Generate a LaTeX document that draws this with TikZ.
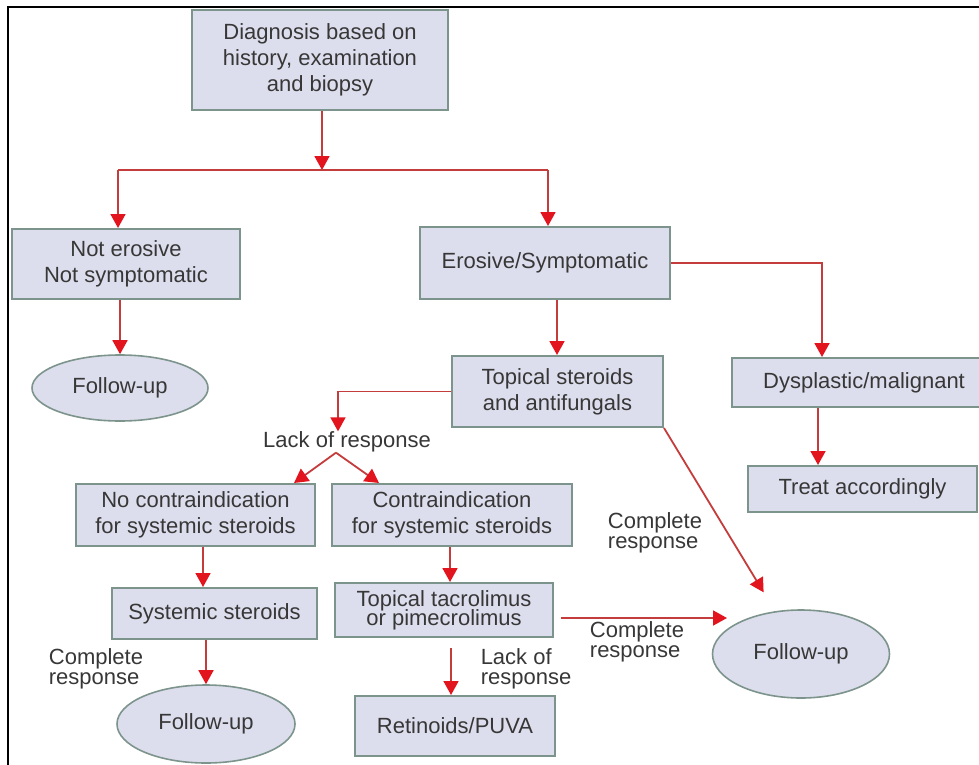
\documentclass[tikz,border=0pt]{standalone}
\usepackage{fontspec}
\setmainfont{Liberation Sans}
\usetikzlibrary{arrows.meta}
\usetikzlibrary{shapes.geometric}
\definecolor{boxfill}{RGB}{221,222,237}
\definecolor{boxline}{RGB}{125,148,140}
\definecolor{linkred}{RGB}{196,60,60}
\definecolor{tipred}{RGB}{226,20,30}
\definecolor{txtgrey}{RGB}{55,55,55}
\tikzset{
  box/.style={draw=boxline, fill=boxfill, line width=1pt, align=center,
    inner sep=0pt, text=txtgrey},
  oval/.style={ellipse, draw=boxline, fill=boxfill, line width=0.8pt,
    inner sep=0pt, text=txtgrey},
  note/.style={align=left, inner sep=0pt, text=txtgrey},
  link/.style={draw=linkred, line width=0.9pt},
  arr/.style={link, -{Triangle[width=7.5pt,length=7pt,color=tipred]}},
}

\begin{document}
\begin{tikzpicture}[x=0.5pt, y=-0.5pt, font=\fontsize{11}{13}\selectfont]
\useasboundingbox (0,0) rectangle (979,765);
\draw[line width=1pt] (8,765) -- (8,7) -- (979,7);

%%%%%%%%%%%%%%%%%%%%%%%%%%%%%%%%%%%%%%%%%%%%%%%%%%%%%%%%%%%%%% top
\node[box, minimum width=128pt, minimum height=50pt] (diag) at (320,60)
  {Diagnosis based on\\history, examination\\and biopsy};
\node[box, minimum width=114pt, minimum height=35pt] (noero) at (126,264)
  {Not erosive\\Not symptomatic};
\node[box, minimum width=125pt, minimum height=36pt] (ero) at (545,263)
  {Erosive/Symptomatic};
\node[oval, minimum width=88pt, minimum height=33pt] (fu1) at (120,388) {Follow-up};

\coordinate (split) at (322,170);
\coordinate (splitL) at (118,170);
\coordinate (splitR) at (548,170);
\draw[arr] (diag.south -| split) -- (split);
\draw[link] (splitL) -- (splitR);
\draw[arr] (splitL) -- (splitL |- noero.north);
\draw[arr] (splitR) -- (splitR |- ero.north);
\draw[arr] (fu1.north |- noero.south) -- (fu1.north);

%%%%%%%%%%%%%%%%%%%%%%%%%%%%%%%%%%%%%%%%%%%%%%%%%%%%%%%%%%%%%% right
\node[box, minimum width=132pt, minimum height=24.5pt] (dysp) at (864,382.5)
  {Dysplastic/malignant};
\node[box, minimum width=114.5pt, minimum height=23pt] (treat) at (862.5,489)
  {Treat accordingly};

\coordinate (dysin) at (822,300);
\coordinate (dysout) at (818,420);
\draw[arr] (ero.east) -| (dysin |- dysp.north);
\draw[arr] (dysout |- dysp.south) -- (dysout |- treat.north);

%%%%%%%%%%%%%%%%%%%%%%%%%%%%%%%%%%%%%%%%%%%%%%%%%%%%%%%%%%%%%% middle
\node[box, minimum width=105.5pt, minimum height=35.5pt] (topst) at (557.5,391.5)
  {Topical steroids\\and antifungals};
\node[note] (lack1) at (347,442) {Lack of response};
\node[box, minimum width=119.5pt, minimum height=31pt] (nocon) at (195.5,515)
  {No contraindication\\for systemic steroids};
\node[box, minimum width=120pt, minimum height=31pt] (con) at (452,515)
  {Contraindication\\for systemic steroids};

\coordinate (topin) at (557,330);
\draw[arr] (topin |- ero.south) -- (topin |- topst.north);
\draw[arr] (topst.west) -| ([xshift=-4.5pt]lack1.north);
\draw[arr] ([xshift=-5.5pt]lack1.south) -- ([xshift=-11pt]nocon.north east);
\draw[arr] ([xshift=-5.5pt]lack1.south) -- ([xshift=24pt]con.north west);

%%%%%%%%%%%%%%%%%%%%%%%%%%%%%%%%%%%%%%%%%%%%%%%%%%%%%%%%%%%%%% left branch
\node[box, minimum width=102.5pt, minimum height=25.5pt] (sys) at (214.5,613.5)
  {Systemic steroids};
\node[note] (cr1) at (96,669) {Complete\\[-3pt]response};
\node[oval, minimum width=89pt, minimum height=39pt] (fu2) at (206,724) {Follow-up};

\draw[arr] ([xshift=3.75pt]nocon.south) -- ([xshift=3.75pt]nocon.south |- sys.north);
\draw[arr] (fu2.north |- sys.south) -- (fu2.north);

%%%%%%%%%%%%%%%%%%%%%%%%%%%%%%%%%%%%%%%%%%%%%%%%%%%%%%%%%%%%%% right branch
\node[box, minimum width=109pt, minimum height=27pt] (tacro) at (444,610)
  {Topical tacrolimus\\[-3.5pt]or pimecrolimus};
\node[note] (lack2) at (526,669) {Lack of\\[-3pt]response};
\node[box, minimum width=100pt, minimum height=30pt] (retin) at (455,726)
  {Retinoids/PUVA};
\node[oval, minimum width=88.5pt, minimum height=44pt] (fu3) at (801,654) {Follow-up};
\node[note] (cr2) at (637,642) {Complete\\[-3pt]response};
\node[note] (cr3) at (655,533) {Complete\\[-3pt]response};

\coordinate (fu3in) at (727,618);
\draw[arr] ([xshift=-1pt]con.south) -- ([xshift=-1pt]con.south |- tacro.north);
\draw[arr, shorten <=5pt] ([xshift=3.5pt]tacro.south) -- ([xshift=3.5pt]tacro.south |- retin.north);
\draw[arr, shorten <=3.5pt] (tacro.east |- fu3in) -- (fu3in);
\draw[arr, shorten >=11pt] (topst.south east) -- (fu3);

\end{tikzpicture}
\end{document}
